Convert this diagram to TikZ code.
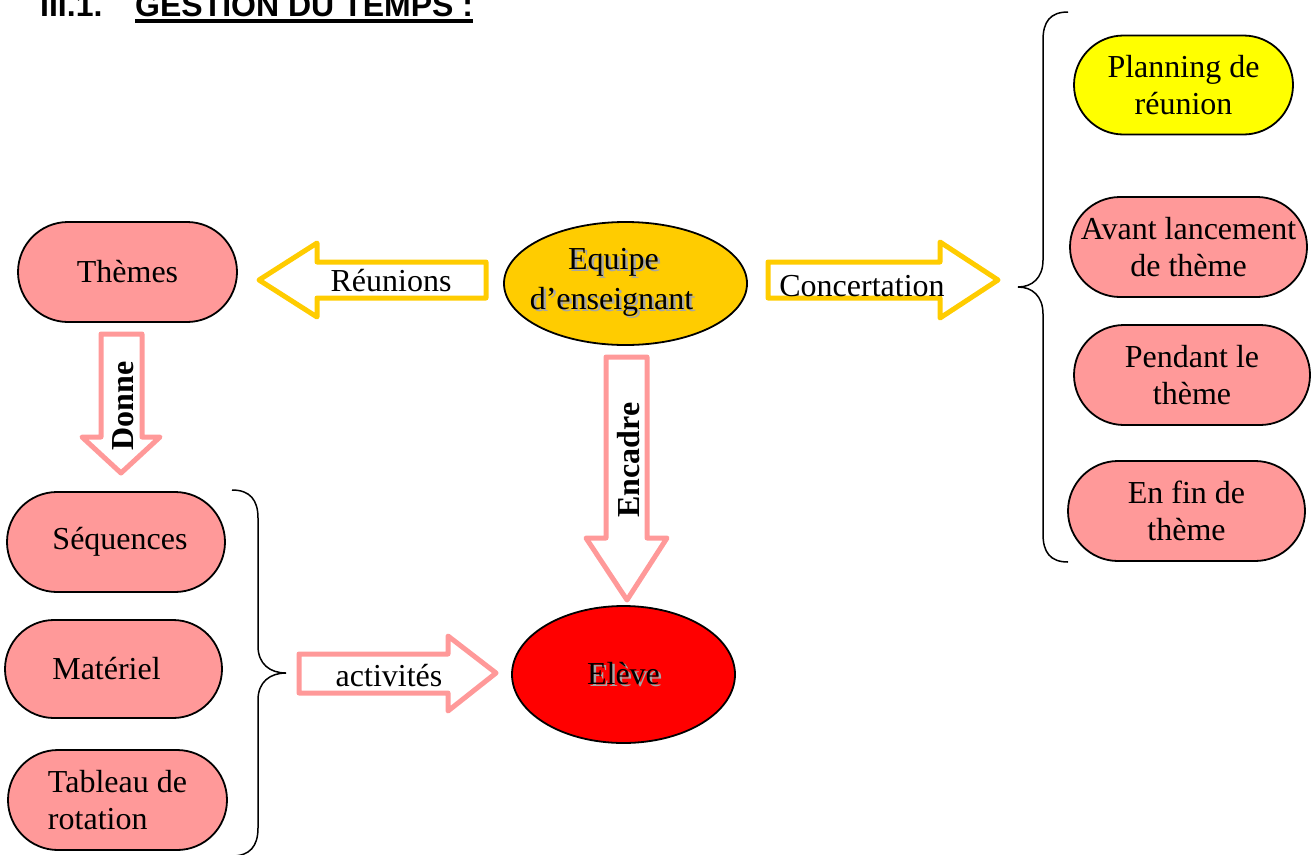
\documentclass[tikz,border=0pt]{standalone}
\usepackage{fontspec}
\setmainfont{Liberation Serif}
\newfontfamily\headfont{Liberation Sans}
\usetikzlibrary{shapes.geometric,shapes.misc}
\definecolor{pinkfill}{HTML}{FF9999}
\definecolor{goldfill}{HTML}{FFCC00}
\definecolor{yellowfill}{HTML}{FFFF00}
\definecolor{redfill}{HTML}{FF0000}
% text with a soft grey drop shadow
\newcommand{\shadowed}[1]{\leavevmode\rlap{\kern2.5pt\raisebox{-2.5pt}{\textcolor{black!35}{#1}}}#1}

\begin{document}
\begin{tikzpicture}[x=1pt,y=-1pt,
  every node/.style={font=\fontsize{32}{37}\selectfont},
  pill/.style={rounded rectangle, draw=black, line width=1.8pt, fill=pinkfill,
               inner sep=0pt, align=center},
  oval/.style={ellipse, draw=black, line width=1.8pt, inner sep=0pt, align=center},
  goldarrow/.style={draw=goldfill, line width=5pt, line join=round, fill=white},
  pinkarrow/.style={draw=pinkfill, line width=5pt, line join=round, fill=white},
  brace/.style={draw=black, line width=1.5pt},
  arrowlabel/.style={inner sep=0pt},
  heading/.style={anchor=base west, inner sep=0pt,
                  font=\headfont\bfseries\fontsize{32}{36}\selectfont}]

\useasboundingbox (0,0) rectangle (1316,854);

% heading
\node[heading] (num) at (40,16) {III.1.};
\node[heading] (title) at (135,16) {GESTION DU TEMPS :};
\draw[line width=3.5pt] ([yshift=-5pt]title.base west) -- ([yshift=-5pt]title.base east);

% central ellipses (text set in zero-width boxes so the ellipse keeps its size)
\node[oval, fill=goldfill, minimum width=243, minimum height=123,
      font=\fontsize{32}{40}\selectfont] (team) at (625.5,283.5)
  {\makebox[0pt]{\shadowed{Equipe}\hspace*{24pt}}\\
   \makebox[0pt]{\shadowed{d’enseignant}\hspace*{28pt}}};
\node[oval, fill=redfill, minimum width=223, minimum height=137] (pupil) at (623.5,674.5)
  {\shadowed{Elève}};

% left column
\node[pill, minimum width=219, minimum height=100] (themes) at (127.5,272) {Thèmes};
\node[pill, minimum width=218, minimum height=100] (seq) at (116,542) {\hspace*{8pt}Séquences};
\node[pill, minimum width=217, minimum height=98] (mat) at (113.5,669) {Matériel\hspace*{14pt}};
\node[pill, minimum width=219, minimum height=100, align=left] (tab) at (117.5,800)
  {Tableau de\\rotation};

% right column
\node[pill, fill=yellowfill, minimum width=219, minimum height=99] (plan) at (1183.5,85)
  {Planning de\\réunion};
\node[pill, minimum width=237, minimum height=100] (avant) at (1188.5,247)
  {Avant lancement\\de thème};
\node[pill, minimum width=236, minimum height=100] (pendant) at (1192,375)
  {Pendant le\\thème};
\node[pill, minimum width=237, minimum height=100] (fin) at (1186.5,511)
  {En fin de\\thème};

% braces
\draw[brace] (1068,12) .. controls (1050,12) and (1043,22) .. (1043,40)
  -- (1043,260) .. controls (1043,278) and (1032,287) .. (1018,287)
  .. controls (1032,287) and (1043,296) .. (1043,314)
  -- (1043,534) .. controls (1043,552) and (1050,562) .. (1068,562);
\draw[brace] (232,490) .. controls (250,490) and (258,500) .. (258,518)
  -- (258,646) .. controls (258,664) and (270,673) .. (286,673)
  .. controls (270,673) and (258,682) .. (258,700)
  -- (258,828) .. controls (258,846) and (250,856) .. (232,856);

% block arrows
\draw[goldarrow] (259,280) -- (317,243) -- (317,262) -- (486,262) -- (486,298)
  -- (317,298) -- (317,317) -- cycle;
\node[arrowlabel] (reunions) at (391,281) {Réunions};

\draw[goldarrow] (998,280) -- (940,242) -- (940,262) -- (768,262) -- (768,298)
  -- (940,298) -- (940,318) -- cycle;
\node[arrowlabel] (concert) at (862,286) {Concertation};

\draw[pinkarrow] (121,473) -- (82,437) -- (101,437) -- (101,334) -- (142,334)
  -- (142,437) -- (160,437) -- cycle;
\node[arrowlabel, rotate=90, font=\fontsize{32}{37}\selectfont\bfseries] (donne) at (123,406) {Donne};

\draw[pinkarrow] (627,600) -- (586,538) -- (606,538) -- (606,357) -- (647,357)
  -- (647,538) -- (667,538) -- cycle;
\node[arrowlabel, rotate=90, font=\fontsize{32}{37}\selectfont\bfseries] (encadre) at (629,460) {Encadre};

\draw[pinkarrow] (496,673) -- (448,636) -- (448,654) -- (299,654) -- (299,693)
  -- (448,693) -- (448,711) -- cycle;
\node[arrowlabel] (activ) at (389,676) {activités};

\end{tikzpicture}
\end{document}
